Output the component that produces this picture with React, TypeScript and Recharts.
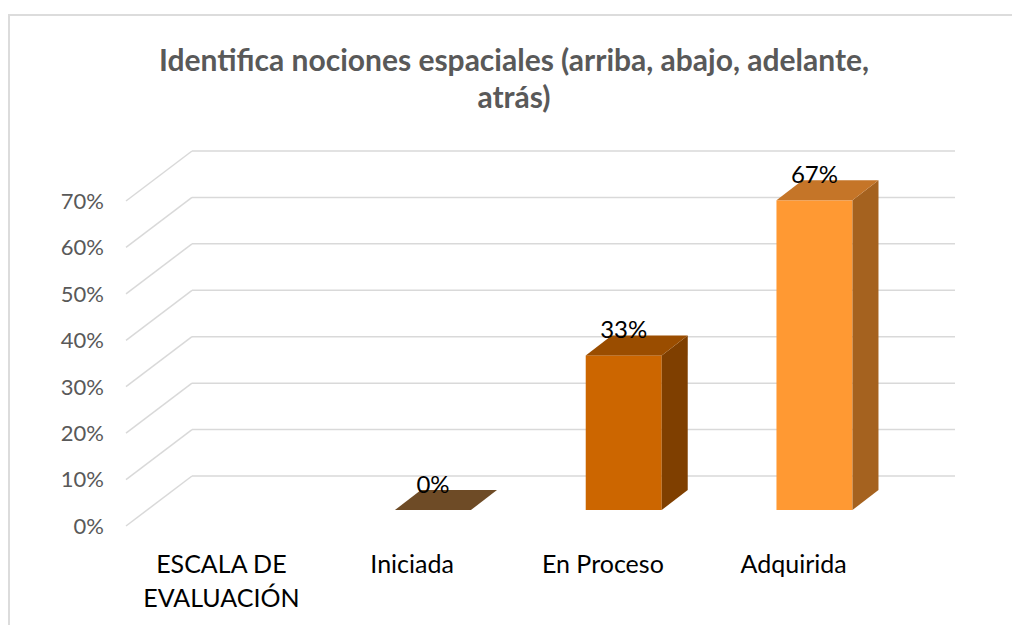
import React from 'react';
import { BarChart, Bar, XAxis, YAxis, CartesianGrid, LabelList, Text } from 'recharts';

const categories = ['ESCALA DE EVALUACIÓN', 'Iniciada', 'En Proceso', 'Adquirida'];
const values: (number | null)[] = [null, 0, 0.333, 0.667];
const yTicks = [0, 0.1, 0.2, 0.3, 0.4, 0.5, 0.6, 0.7];
const titleLines = ['Identifica nociones espaciales (arriba, abajo, adelante,', 'atrás)'];

const frontColors = ['#999999', '#94632F', '#CC6600', '#FF9933'];
const topColors = ['#777777', '#6E4B26', '#9A4D00', '#C57528'];
const sideColors = ['#555555', '#5A3D1F', '#7F3F00', '#A5621F'];

const data = categories.map((name, i) => ({ name, value: values[i] }));

// 3D geometry
const DEPTH_X = 66;
const DEPTH_Y = 50;
const BAR_OX = 21;
const BAR_OY = 16;
const BAR_DX = 26;
const BAR_DY = 20;
const FONT = 'Lato, "Open Sans", "Noto Sans", sans-serif';

const pct = (v: number) => `${Math.round(v * 100)}%`;

const GridLine = (p: any) => {
  const { x1, y1, x2 } = p;
  const bx = x1 + DEPTH_X;
  const by = y1 - DEPTH_Y;
  return (
    <g key={p.key ?? `g-${p.index}-${y1}`}>
      <line x1={x1} y1={y1} x2={bx} y2={by} stroke="#D9D9D9" strokeWidth={1.5} />
      <line x1={bx} y1={by} x2={x2 + DEPTH_X} y2={by} stroke="#D9D9D9" strokeWidth={1.5} />
    </g>
  );
};

const Bar3D = (props: any) => {
  const { x, y, width, height, payload } = props;
  if (payload == null || payload.value == null) return null;
  const ci = Math.max(0, categories.indexOf(payload.name));
  const fx = x + BAR_OX;
  const fy = y - BAR_OY;
  const h = Math.max(0, height);
  const top = `${fx},${fy} ${fx + BAR_DX},${fy - BAR_DY} ${fx + width + BAR_DX},${fy - BAR_DY} ${fx + width},${fy}`;
  const side = `${fx + width},${fy} ${fx + width + BAR_DX},${fy - BAR_DY} ${fx + width + BAR_DX},${fy + h - BAR_DY} ${fx + width},${fy + h}`;
  return (
    <g>
      {h > 0 && <rect x={fx} y={fy} width={width} height={h} fill={frontColors[ci]} />}
      {h > 0 && <polygon points={side} fill={sideColors[ci]} />}
      <polygon points={top} fill={topColors[ci]} />
    </g>
  );
};

const ValueLabel = (props: any) => {
  const { x, y, width, value } = props;
  if (value == null) return null;
  const cx = x + BAR_OX + width / 2;
  const by = y - BAR_OY - BAR_DY + 3;
  return (
    <text x={cx} y={by} textAnchor="middle" fontFamily={FONT} fontSize={24} fill="#000000">
      {pct(Number(value))}
    </text>
  );
};

const XTick = (props: any) => {
  const { x, y, payload } = props;
  return (
    <Text
      x={x}
      y={y + 29}
      width={175}
      textAnchor="middle"
      verticalAnchor="start"
      lineHeight={34}
      fontFamily={FONT}
      fontSize={25}
      fill="#000000"
    >
      {payload.value}
    </Text>
  );
};

export default function App() {
  return (
    <div style={{ position: 'absolute', left: 0, top: 0, width: 1012, height: 625, overflow: 'hidden', background: '#ffffff' }}>
      <div
        style={{
          position: 'absolute',
          left: 8,
          top: 14,
          width: 1100,
          height: 700,
          borderLeft: '2px solid #DCDCDC',
          borderTop: '2px solid #DCDCDC',
        }}
      />
      <svg width={1012} height={130} style={{ position: 'absolute', left: 0, top: 0 }}>
        {titleLines.map((t, i) => (
          <text
            key={i}
            x={514}
            y={71 + i * 37}
            textAnchor="middle"
            fontFamily={FONT}
            fontWeight={700}
            fontSize={30}
            fill="#595959"
          >
            {t}
          </text>
        ))}
      </svg>
      <div style={{ position: 'absolute', left: 0, top: 0 }}>
        <BarChart
          width={1012}
          height={625}
          data={data}
          margin={{ top: 201, right: 123, bottom: 0, left: 0 }}
          barCategoryGap="30%"
        >
          <CartesianGrid vertical={false} horizontal={GridLine as any} />
          <YAxis
            width={126}
            domain={[0, 0.7]}
            ticks={yTicks}
            tickFormatter={pct}
            axisLine={false}
            tickLine={false}
            tickSize={0}
            tickMargin={22}
            tick={{ fontFamily: FONT, fontSize: 22, fill: '#595959' }}
            interval={0}
          />
          <XAxis
            dataKey="name"
            height={99}
            axisLine={false}
            tickLine={false}
            tickSize={0}
            tickMargin={0}
            interval={0}
            tick={<XTick />}
          />
          <Bar dataKey="value" isAnimationActive={false} shape={<Bar3D />}>
            <LabelList dataKey="value" content={<ValueLabel />} />
          </Bar>
        </BarChart>
      </div>
    </div>
  );
}
